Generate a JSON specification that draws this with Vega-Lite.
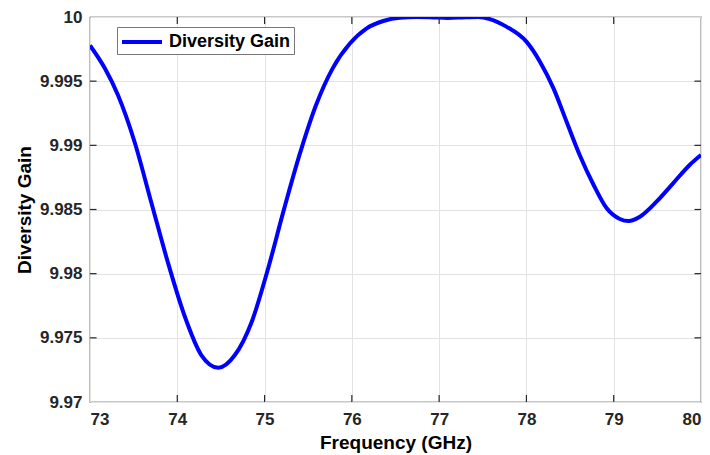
{
  "$schema": "https://vega.github.io/schema/vega-lite/v6.json",
  "width": 611,
  "height": 385,
  "autosize": "none",
  "padding": {"left": 90, "top": 17, "right": 9, "bottom": 53},
  "background": "white",
  "config": {
    "view": {"stroke": "#262626", "strokeWidth": 1.2},
    "font": "Liberation Sans"
  },
  "data": {
    "values": [
      {"f": 73.0, "g": 9.99778},
      {"f": 73.17, "g": 9.9960},
      {"f": 73.32, "g": 9.99392},
      {"f": 73.51, "g": 9.99028},
      {"f": 73.70, "g": 9.98561},
      {"f": 73.89, "g": 9.98093},
      {"f": 74.08, "g": 9.97678},
      {"f": 74.275, "g": 9.97366},
      {"f": 74.47, "g": 9.97267},
      {"f": 74.66, "g": 9.97366},
      {"f": 74.85, "g": 9.97620},
      {"f": 75.03, "g": 9.98015},
      {"f": 75.22, "g": 9.98495},
      {"f": 75.40, "g": 9.98925},
      {"f": 75.59, "g": 9.99314},
      {"f": 75.78, "g": 9.99600},
      {"f": 75.98, "g": 9.99795},
      {"f": 76.17, "g": 9.99912},
      {"f": 76.36, "g": 9.99969},
      {"f": 76.55, "g": 9.99995},
      {"f": 76.74, "g": 10.0},
      {"f": 76.9, "g": 9.99998},
      {"f": 77.1, "g": 9.99992},
      {"f": 77.3, "g": 9.99998},
      {"f": 77.45, "g": 10.0},
      {"f": 77.58, "g": 9.99984},
      {"f": 77.77, "g": 9.99925},
      {"f": 78.0, "g": 9.99808},
      {"f": 78.155, "g": 9.99652},
      {"f": 78.31, "g": 9.99444},
      {"f": 78.46, "g": 9.99184},
      {"f": 78.61, "g": 9.98925},
      {"f": 78.77, "g": 9.98691},
      {"f": 78.92, "g": 9.98509},
      {"f": 79.07, "g": 9.98426},
      {"f": 79.17, "g": 9.98410},
      {"f": 79.30, "g": 9.98444},
      {"f": 79.49, "g": 9.98561},
      {"f": 79.68, "g": 9.98704},
      {"f": 79.87, "g": 9.98847},
      {"f": 80.0, "g": 9.98925}
    ]
  },
  "layer": [
    {
      "mark": {"type": "line", "strokeWidth": 4, "interpolate": "monotone", "clip": true},
      "encoding": {
        "x": {
          "field": "f", "type": "quantitative",
          "scale": {"domain": [73, 80], "nice": false, "zero": false},
          "axis": {
            "title": "Frequency (GHz)",
            "titleFont": "Liberation Sans", "titleFontSize": 19, "titleFontWeight": "bold", "titleColor": "#000000",
            "titlePadding": 6,
            "values": [73, 74, 75, 76, 77, 78, 79, 80],
            "format": "d",
            "labelFont": "Liberation Sans", "labelFontSize": 17, "labelFontWeight": "bold", "labelColor": "#262626",
            "labelPadding": 9,
            "tickSize": 0,
            "grid": true, "gridColor": "#e3e3e3", "gridWidth": 1,
            "domain": false
          }
        },
        "y": {
          "field": "g", "type": "quantitative",
          "scale": {"domain": [9.97, 10], "nice": false, "zero": false},
          "axis": {
            "title": "Diversity Gain",
            "titleFont": "Liberation Sans", "titleFontSize": 19, "titleFontWeight": "bold", "titleColor": "#000000",
            "titlePadding": 5,
            "values": [9.97, 9.975, 9.98, 9.985, 9.99, 9.995, 10],
            "labelExpr": "format(datum.value, '.3~f')",
            "labelFont": "Liberation Sans", "labelFontSize": 17, "labelFontWeight": "bold", "labelColor": "#262626",
            "labelPadding": 8,
            "tickSize": 0,
            "grid": true, "gridColor": "#e3e3e3", "gridWidth": 1,
            "domain": false
          }
        },
        "color": {
          "datum": "Diversity Gain",
          "scale": {"range": ["#0000ff"]},
          "legend": {
            "title": null,
            "orient": "none",
            "legendX": 27,
            "legendY": 10,
            "symbolType": "M-2,0H2",
            "symbolStrokeWidth": 4,
            "symbolSize": 400,
            "symbolOffset": 10,
            "labelFont": "Liberation Sans",
            "labelFontSize": 18,
            "labelFontWeight": "bold",
            "labelColor": "#000000",
            "labelOffset": 15,
            "strokeColor": "#777777",
            "fillColor": "#ffffff",
            "padding": 3
          }
        }
      }
    },
    {
      "mark": {"type": "rule", "color": "#262626", "strokeWidth": 1.2},
      "data": {"values": [{"t": 74}, {"t": 75}, {"t": 76}, {"t": 77}, {"t": 78}, {"t": 79}]},
      "encoding": {
        "x": {"field": "t", "type": "quantitative"},
        "y": {"datum": 9.97},
        "y2": {"datum": 9.97055}
      }
    },
    {
      "mark": {"type": "rule", "color": "#262626", "strokeWidth": 1.2},
      "data": {"values": [{"t": 74}, {"t": 75}, {"t": 76}, {"t": 77}, {"t": 78}, {"t": 79}]},
      "encoding": {
        "x": {"field": "t", "type": "quantitative"},
        "y": {"datum": 10},
        "y2": {"datum": 9.99945}
      }
    },
    {
      "mark": {"type": "rule", "color": "#262626", "strokeWidth": 1.2},
      "data": {"values": [{"v": 9.975}, {"v": 9.98}, {"v": 9.985}, {"v": 9.99}, {"v": 9.995}]},
      "encoding": {
        "y": {"field": "v", "type": "quantitative"},
        "x": {"datum": 73},
        "x2": {"datum": 73.075}
      }
    },
    {
      "mark": {"type": "rule", "color": "#262626", "strokeWidth": 1.2},
      "data": {"values": [{"v": 9.975}, {"v": 9.98}, {"v": 9.985}, {"v": 9.99}, {"v": 9.995}]},
      "encoding": {
        "y": {"field": "v", "type": "quantitative"},
        "x": {"datum": 80},
        "x2": {"datum": 79.925}
      }
    }
  ]
}
